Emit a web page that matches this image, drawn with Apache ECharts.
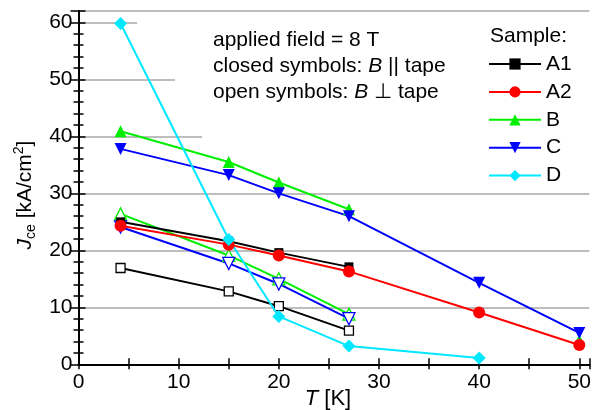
<!DOCTYPE html>
<html>
<head>
<meta charset="utf-8">
<script src="https://cdn.jsdelivr.net/npm/echarts@6/dist/echarts.min.js"></script>
<style>html,body{margin:0;padding:0;background:#fff}#c{width:594px;height:410px}</style>
</head>
<body>
<div id="c"></div>
<script>
// Temperatures (K)
const T_A1 = [4.2, 15, 20, 27];
const T_A2 = [4.2, 15, 20, 27, 40, 50];
const T_B  = [4.2, 15, 20, 27, 40, 50];
const T_C  = [4.2, 15, 20, 27, 40, 50];
const T_D  = [4.2, 15, 20, 27, 40];
const T_OPEN = [4.2, 15, 20, 27];
// Jce (kA/cm2), closed symbols: B || tape
const A1_closed = [25.0, 21.6, 19.6, 17.1];
const A2_closed = [24.3, 21.0, 19.1, 16.3, 9.1, 3.4];
const B_closed  = [40.9, 35.5, 31.9, 27.2, '-', 4.2];
const C_closed  = [37.8, 33.2, 30.0, 26.0, 14.3, 5.5];
const D_closed  = [59.8, 21.9, 8.4, 3.2, 1.1];
// open symbols: B perpendicular tape
const A1_open = [16.9, 12.8, 10.2, 5.9];
const B_open  = [26.4, 19.1, 15.0, 8.8];
const C_open  = [24.1, 17.7, 14.1, 8.0];
const xTicks = [0, 10, 20, 30, 40, 50];
const yTicks = [0, 10, 20, 30, 40, 50, 60];

const pair = (xs, ys) => xs.map((x, i) => [x, ys[i]]);
const font = 'Liberation Sans, Arial, sans-serif';

function ser(name, xs, ys, color, symbol, size, open) {
  return {
    name, type: 'line', data: pair(xs, ys), xAxisIndex: 0, yAxisIndex: 0,
    symbol, symbolSize: size, showSymbol: true, connectNulls: false,
    lineStyle: { color, width: 2 },
    itemStyle: open ? { color: '#fff', borderColor: color, borderWidth: 1.3 } : { color, borderWidth: 0 },
    emphasis: { disabled: true }, animation: false, z: open ? 3 : 4
  };
}

const chart = echarts.init(document.getElementById('c'), null, { renderer: 'canvas' });
const xMin = 0, xMax = 51, yMin = 0, yMax = 62;
const baseAxis = {
  axisLine: { show: true, lineStyle: { color: '#000', width: 2 } },
  splitLine: { show: false }
};
chart.setOption({
  animation: false,
  grid: { left: 78.5, right: 2, top: 11, bottom: 45.7, containLabel: false },
  xAxis: [
    Object.assign({}, baseAxis, {
      type: 'value', position: 'bottom', min: xMin, max: xMax, interval: 10,
      axisTick: { show: true, inside: true, length: 6, lineStyle: { color: '#000', width: 1.5 } },
      minorTick: { show: true, splitNumber: 2, length: 6, lineStyle: { color: '#000', width: 1.5 } },
      axisLabel: { color: '#000', fontSize: 21, fontFamily: font, margin: 7, showMaxLabel: false,
        formatter: v => xTicks.includes(v) ? String(v) : '' }
    }),
    Object.assign({}, baseAxis, {
      type: 'value', position: 'top', min: xMin, max: xMax, interval: 5,
      axisTick: { show: true, inside: true, length: 5, lineStyle: { color: '#000', width: 1.5 } },
      axisLabel: { show: false }
    })
  ],
  yAxis: [
    Object.assign({}, baseAxis, {
      type: 'value', position: 'left', min: yMin, max: yMax, interval: 10,
      axisTick: { show: true, inside: true, length: 7, lineStyle: { color: '#000', width: 1.5 } },
      minorTick: { show: true, splitNumber: 5, length: 5, lineStyle: { color: '#000', width: 1.5 } },
      splitLine: { show: true, lineStyle: { color: '#bdbdbd', width: 2 } },
      axisLabel: { color: '#000', fontSize: 21, fontFamily: font, margin: 6, showMaxLabel: false,
        formatter: v => yTicks.includes(v) ? String(v) : '' }
    }),
    Object.assign({}, baseAxis, {
      type: 'value', position: 'right', min: yMin, max: yMax, interval: 10,
      axisTick: { show: true, inside: true, length: 8, lineStyle: { color: '#000', width: 1.5 } },
      minorTick: { show: true, splitNumber: 5, length: 5, lineStyle: { color: '#000', width: 1.5 } },
      axisLabel: { show: false }
    })
  ],
  legend: {
    data: ['A1', 'A2', 'B', 'C', 'D'],
    orient: 'vertical', left: 488, top: 53.5, padding: 0,
    itemWidth: 52, itemHeight: 14, itemGap: 6.9, selectedMode: false,
    textStyle: { color: '#000', fontSize: 21, fontFamily: font, lineHeight: 21 }
  },
  graphic: [
    { type: 'rect', z: 1, shape: { x: 137, y: 18, width: 454, height: 8 }, style: { fill: '#fff' } },
    { type: 'rect', z: 1, shape: { x: 175, y: 75, width: 416, height: 8 }, style: { fill: '#fff' } },
    { type: 'rect', z: 1, shape: { x: 202, y: 132, width: 389, height: 8 }, style: { fill: '#fff' } },
    { type: 'text', z: 10, x: 213, y: 27.5, style: {
        text: 'applied field = 8 T\nclosed symbols: {i|B} || tape\nopen symbols: {i|B} ⊥ tape',
        font: '21px ' + font, fill: '#000', lineHeight: 25.8,
        rich: { i: { fontStyle: 'italic', fontSize: 21, fontFamily: font, lineHeight: 25.8 } }
    } },
    { type: 'text', z: 10, x: 490, y: 25.5, style: { text: 'Sample:', font: '21px ' + font, fill: '#000' } },
    { type: 'text', z: 10, x: 25, y: 195, rotation: Math.PI / 2, style: {
        text: '{i|J}{sub|ce}{n| [kA/cm}{sup|2}{n|]}',
        align: 'center', verticalAlign: 'middle', fill: '#000',
        rich: {
          i: { fontStyle: 'italic', fontSize: 21, fontFamily: font, lineHeight: 26 },
          n: { fontSize: 21, fontFamily: font, lineHeight: 26 },
          sub: { fontSize: 14, fontFamily: font, lineHeight: 14, verticalAlign: 'bottom' },
          sup: { fontSize: 14, fontFamily: font, lineHeight: 14, verticalAlign: 'top' }
        }
    } },
    { type: 'text', z: 10, x: 328, y: 399, style: {
        text: '{i|T}{n| [K]}', align: 'center', verticalAlign: 'middle', fill: '#000',
        rich: {
          i: { fontStyle: 'italic', fontSize: 22, fontFamily: font },
          n: { fontSize: 22, fontFamily: font }
        }
    } }
  ],
  series: [
    ser('A1 open', T_OPEN, A1_open, '#000000', 'rect', 9, true),
    ser('B open', T_OPEN, B_open, '#00ee00', 'triangle', 12, true),
    ser('C open', T_OPEN, C_open, '#0000ff', 'path://M0,0 L10,0 L5,10 Z', 12, true),
    ser('A1', T_A1, A1_closed, '#000000', 'rect', 9, false),
    ser('B', T_B, B_closed, '#00ee00', 'triangle', 12, false),
    ser('A2', T_A2, A2_closed, '#ff0000', 'circle', 12, false),
    ser('C', T_C, C_closed, '#0000ff', 'path://M0,0 L10,0 L5,10 Z', 12, false),
    ser('D', T_D, D_closed, '#00e8ff', 'diamond', 13, false)
  ]
});
</script>
</body>
</html>
